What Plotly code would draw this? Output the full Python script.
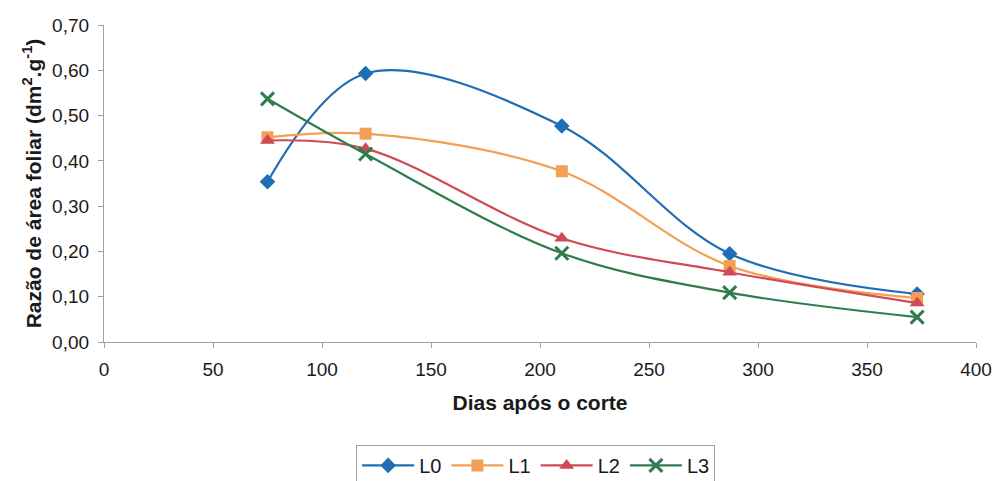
import plotly.graph_objects as go

# Days after cutting and leaf area ratio for each treatment
dias = [75, 120, 210, 287, 373]
l0 = [0.354, 0.593, 0.477, 0.195, 0.106]
l1 = [0.452, 0.460, 0.377, 0.168, 0.097]
l2 = [0.445, 0.427, 0.229, 0.154, 0.086]
l3 = [0.537, 0.415, 0.196, 0.109, 0.055]

series = [
    ("L0", l0, "#1F6DB4", "diamond", 12),
    ("L1", l1, "#F2A055", "square", 12),
    ("L2", l2, "#CF4A55", "triangle-up", 13),
    ("L3", l3, "#2E7D4E", "x-thin-open", 13),
]

fig = go.Figure()
for name, vals, color, symbol, size in series:
    marker = dict(symbol=symbol, size=size, color=color)
    if symbol.startswith("x"):
        marker["line"] = dict(color=color, width=3)
    fig.add_trace(go.Scatter(
        x=dias, y=vals, name=name, mode="lines+markers",
        line=dict(color=color, width=2.2, shape="spline", smoothing=1.0),
        marker=marker,
    ))

font_family = "Liberation Sans, Arial"
axis_common = dict(
    showgrid=False, zeroline=False, showline=True,
    linecolor="#a0a0a0", linewidth=1.2,
    ticks="outside", ticklen=5, tickcolor="#a0a0a0",
    tickfont=dict(family=font_family, size=19, color="#1a1a1a"),
)

fig.update_layout(
    width=1004, height=481,
    margin=dict(l=104, r=21, t=25, b=139),
    paper_bgcolor="white", plot_bgcolor="white",
    separators=",.",
    font=dict(family=font_family, color="#1a1a1a"),
    xaxis=dict(range=[0, 400], dtick=50, tickformat="d", ticklabelstandoff=5,
               title=dict(text="<b>Dias após o corte</b>", font=dict(size=21), standoff=16),
               **axis_common),
    yaxis=dict(range=[0, 0.7], dtick=0.1, tickformat=".2f", ticklabelstandoff=5,
               title=dict(text="<b>Razão de área foliar (dm<sup>2</sup>.g<sup>-1</sup>)</b>",
                          font=dict(size=21), standoff=4),
               **axis_common),
    legend=dict(orientation="h", x=0.495, xanchor="center",
                yref="container", y=0.075, yanchor="top",
                bordercolor="#a0a0a0", borderwidth=1,
                font=dict(size=20), itemwidth=52, tracegroupgap=0),
    showlegend=True,
)

fig.write_html("out.html")
